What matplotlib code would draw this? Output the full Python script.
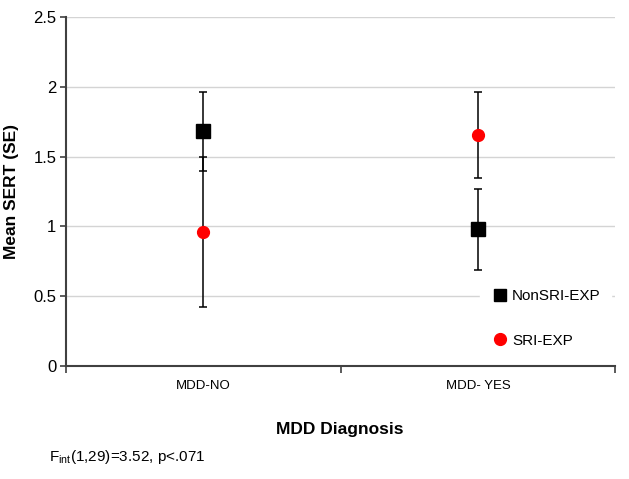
"""Mean SERT by MDD diagnosis and SRI exposure."""

import matplotlib

matplotlib.use("Agg")

import matplotlib.pyplot as plt  # noqa: E402
from matplotlib.lines import Line2D  # noqa: E402

CATEGORIES = ["MDD-NO", "MDD- YES"]
NONSRI_MEAN = [1.68, 0.98]
NONSRI_SE = [0.28, 0.29]
SRI_MEAN = [0.96, 1.655]
SRI_SE = [0.54, 0.305]
Y_TICKS = [0, 0.5, 1, 1.5, 2, 2.5]
Y_TICK_LABELS = ["0", "0.5", "1", "1.5", "2", "2.5"]

plt.rcParams["font.family"] = ["Liberation Sans", "DejaVu Sans"]

fig = plt.figure(figsize=(6.29, 4.79), dpi=100)
ax = fig.add_axes([0.105, 0.236, 0.873, 0.7285])

positions = [0.5, 1.5]
ax.set_xlim(0, 2)
ax.set_ylim(0, 2.5)

for y in Y_TICKS[1:]:
    ax.axhline(y, color="#d4d4d4", linewidth=1.0, zorder=0)

ax.errorbar(
    positions, NONSRI_MEAN, yerr=NONSRI_SE, fmt="s", color="black",
    ecolor="black", elinewidth=1.1, capsize=3, capthick=1.1,
    markersize=9.5, zorder=3,
)
ax.errorbar(
    positions, SRI_MEAN, yerr=SRI_SE, fmt="o", color="#ff0000",
    markeredgecolor="#ff0000", ecolor="black", elinewidth=1.1, capsize=3,
    capthick=1.1, markersize=8.5, zorder=3,
)

handles = [
    Line2D([], [], marker="s", color="black", linestyle="none", markersize=9),
    Line2D([], [], marker="o", color="#ff0000", linestyle="none", markersize=8.5),
]
leg = ax.legend(
    handles, ["NonSRI-EXP", "SRI-EXP"], loc="lower left",
    bbox_to_anchor=(0.74, 0.0), frameon=True, facecolor="white",
    edgecolor="white", framealpha=1.0, fontsize=11, labelspacing=2.0,
    handletextpad=0.2, handlelength=1.2, borderpad=0.7,
)
leg.set_zorder(2)

ax.set_yticks(Y_TICKS)
ax.set_yticklabels(Y_TICK_LABELS, fontsize=12)
ax.set_xticks([0, 1, 2])
ax.set_xticklabels([])
ax.set_xticks(positions, minor=True)
ax.set_xticklabels(CATEGORIES, minor=True, fontsize=9.5)
ax.tick_params(axis="x", which="minor", length=0, pad=10)
ax.tick_params(axis="x", which="major", length=5, width=1.2, color="#404040")
ax.tick_params(axis="y", length=4, width=1.2, color="#404040", pad=3)

for side in ("top", "right"):
    ax.spines[side].set_visible(False)
for side in ("left", "bottom"):
    ax.spines[side].set_color("#404040")
    ax.spines[side].set_linewidth(1.5)

ax.set_ylabel("Mean SERT (SE)", fontsize=12.5, fontweight="bold", labelpad=10)
fig.text(0.54, 0.104, "MDD Diagnosis", fontsize=12.5, fontweight="bold",
         ha="center", va="center")
fig.text(0.078, 0.045, r"F$_{\mathregular{int}}$(1,29)=3.52, p<.071",
         fontsize=11, ha="left", va="center")

fig.savefig("out.png", dpi=100, facecolor="white")
